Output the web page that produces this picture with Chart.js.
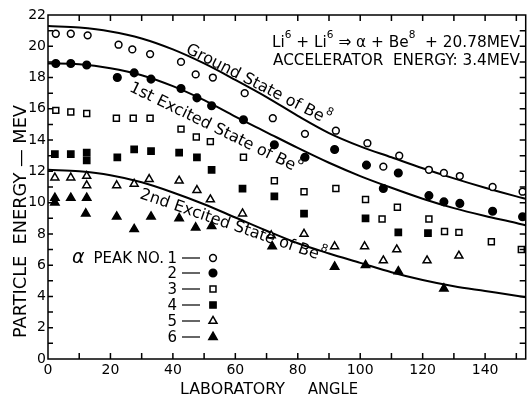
<!DOCTYPE html>
<html>
<head>
<meta charset="utf-8">
<script src="https://cdn.jsdelivr.net/npm/chart.js@4.4.0/dist/chart.umd.min.js"></script>
<style>
  html, body { margin: 0; padding: 0; background: #fff; }
  canvas { display: block; }
</style>
</head>
<body>
<canvas id="chart" width="532" height="394"></canvas>
<script>
// Li6 + Li6 -> alpha + Be8 : alpha particle energy vs laboratory angle

// ── kinematic curves ─────────────────────────────────────
const curveAngles   = [0, 10, 20, 30, 40, 50, 60, 70, 80, 90, 100, 110, 120, 130, 140, 150, 153];
const groundState   = [21.3, 21.2, 20.95, 20.5, 19.8, 18.9, 17.85, 16.75, 15.55, 14.45, 13.6, 12.9, 12.2, 11.55, 10.95, 10.4, 10.25];
const firstExcited  = [18.9, 18.85, 18.6, 18.15, 17.45, 16.55, 15.5, 14.5, 13.5, 12.55, 11.7, 10.95, 10.25, 9.65, 9.15, 8.7, 8.55];
const secondExcited = [12.1, 12.0, 11.75, 11.3, 10.65, 9.9, 9.05, 8.2, 7.4, 6.75, 6.15, 5.55, 5.05, 4.65, 4.35, 4.05, 3.95];

// ── measured alpha peaks ─────────────────────────────────
const peak1Angles = [2.5, 7.3, 12.7, 22.6, 27, 32.7, 42.6, 47.3, 52.8, 63, 72, 82.3, 92.2, 102.3, 107.4, 112.5, 122, 126.8, 131.9, 142.4, 152];
const peak1Energy = [20.8, 20.8, 20.7, 20.1, 19.8, 19.5, 19.0, 18.2, 18.0, 17.0, 15.4, 14.4, 14.6, 13.8, 12.3, 13.0, 12.1, 11.9, 11.7, 11.0, 10.7];
const peak2Angles = [2.5, 7.3, 12.4, 22.2, 27.6, 33, 42.6, 47.7, 52.4, 62.6, 72.5, 82.3, 91.8, 102, 107.4, 112.2, 122, 126.8, 131.9, 142.4, 152];
const peak2Energy = [18.9, 18.9, 18.8, 18.0, 18.3, 17.9, 17.3, 16.7, 16.2, 15.3, 13.7, 12.9, 13.4, 12.4, 10.9, 11.9, 10.45, 10.05, 9.95, 9.45, 9.1];
const peak3Angles = [2.5, 7.3, 12.4, 21.9, 27.3, 32.7, 42.6, 47.5, 52, 62.6, 72.5, 82, 92.2, 101.7, 107, 111.9, 122, 127, 131.6, 142, 151.6];
const peak3Energy = [15.9, 15.8, 15.7, 15.4, 15.4, 15.4, 14.7, 14.2, 13.9, 12.9, 11.4, 10.7, 10.9, 10.2, 8.95, 9.7, 8.95, 8.15, 8.1, 7.5, 7.0];
const peak4Angles = [2.2, 7.3, 12.4, 12.4, 22.2, 27.6, 33, 42, 47.7, 52.4, 62.3, 72.5, 82, 101.7, 112.2, 121.7];
const peak4Energy = [13.1, 13.1, 13.2, 12.7, 12.9, 13.4, 13.3, 13.2, 12.9, 12.1, 10.9, 10.4, 9.3, 9.0, 8.1, 8.05];
const peak5Angles = [2.2, 7.3, 12.4, 12.4, 22, 27.6, 32.4, 42, 47.7, 52, 62.3, 71.5, 82, 91.8, 101.4, 107.4, 111.7, 121.4, 131.6];
const peak5Energy = [11.6, 11.6, 11.7, 11.1, 11.1, 11.2, 11.5, 11.4, 10.8, 10.2, 9.3, 7.9, 8.0, 7.2, 7.2, 6.3, 7.0, 6.3, 6.6];
const peak6Angles = [2.2, 2.2, 7.3, 12.4, 12.1, 22, 27.6, 33, 42, 47.3, 52.4, 71.8, 91.8, 101.7, 112.2, 126.8];
const peak6Energy = [10.3, 10.0, 10.3, 10.3, 9.3, 9.1, 8.3, 9.1, 9.0, 8.4, 8.5, 7.2, 5.9, 6.0, 5.6, 4.5];

const xTickLabels = [0, 20, 40, 60, 80, 100, 120, 140];
const yTickLabels = [0, 2, 4, 6, 8, 10, 12, 14, 16, 18, 20, 22];

const FONT = '"DejaVu Sans", sans-serif';
const pts = (xs, ys) => xs.map((x, i) => ({ x, y: ys[i] }));

const peaks = [
  { name: '1', xs: peak1Angles, ys: peak1Energy, style: 'circle',   filled: false, r: 3.4 },
  { name: '2', xs: peak2Angles, ys: peak2Energy, style: 'circle',   filled: true,  r: 3.8 },
  { name: '3', xs: peak3Angles, ys: peak3Energy, style: 'rect',     filled: false, r: 4.2 },
  { name: '4', xs: peak4Angles, ys: peak4Energy, style: 'rect',     filled: true,  r: 4.4 },
  { name: '5', xs: peak5Angles, ys: peak5Energy, style: 'triangle', filled: false, r: 4.6 },
  { name: '6', xs: peak6Angles, ys: peak6Energy, style: 'triangle', filled: true,  r: 4.8 }
];

function curveSet(ys) {
  return {
    data: pts(curveAngles, ys), showLine: true, pointRadius: 0,
    borderColor: '#000', borderWidth: 2, cubicInterpolationMode: 'monotone', order: 2
  };
}

const datasets = [curveSet(groundState), curveSet(firstExcited), curveSet(secondExcited)].concat(
  peaks.map(p => ({
    data: pts(p.xs, p.ys), showLine: false,
    pointStyle: p.style, pointRadius: p.r, pointBorderWidth: 1.5,
    pointBorderColor: '#000', pointBackgroundColor: p.filled ? '#000' : '#fff', order: 1
  }))
);

// ── text helpers ─────────────────────────────────────────
// runs: [text, size, dy]; draws sequentially, optionally squeezed to a width
function drawRuns(ctx, runs, x, y, width) {
  let total = 0;
  runs.forEach(([t, s]) => { ctx.font = s + 'px ' + FONT; total += ctx.measureText(t).width; });
  ctx.save();
  ctx.translate(x, y);
  if (width) ctx.scale(width / total, 1);
  let cx = 0;
  runs.forEach(([t, s, dy]) => {
    ctx.font = s + 'px ' + FONT;
    ctx.fillText(t, cx, dy || 0);
    cx += ctx.measureText(t).width;
  });
  ctx.restore();
}

function marker(ctx, p, x, y) {
  const opts = { pointStyle: p.style, radius: p.r, borderWidth: 1.5, rotation: 0 };
  ctx.save();
  ctx.fillStyle = p.filled ? '#000' : '#fff';
  ctx.strokeStyle = '#000';
  ctx.lineWidth = 1.5;
  Chart.helpers.drawPoint(ctx, opts, x, y);
  ctx.restore();
}

// ── frame, ticks and annotations ─────────────────────────
const decorPlugin = {
  id: 'decor',
  afterDatasetsDraw(chart) {
    const { ctx, chartArea: a, scales: { x, y } } = chart;
    ctx.save();
    ctx.strokeStyle = '#000';
    ctx.fillStyle = '#000';
    ctx.lineWidth = 1.5;
    ctx.strokeRect(a.left, a.top, a.right - a.left, a.bottom - a.top);
    ctx.beginPath();
    for (let v = 10; v <= 150; v += 10) {
      const px = x.getPixelForValue(v);
      ctx.moveTo(px, a.bottom); ctx.lineTo(px, a.bottom - 6);
      ctx.moveTo(px, a.top); ctx.lineTo(px, a.top + 6);
    }
    for (let v = 1; v <= 21; v++) {
      const py = y.getPixelForValue(v);
      ctx.moveTo(a.left, py); ctx.lineTo(a.left + 5, py);
      ctx.moveTo(a.right, py); ctx.lineTo(a.right - 6, py);
    }
    ctx.stroke();

    // curve labels
    ctx.textBaseline = 'middle';
    ctx.textAlign = 'left';
    const curveLabels = [
      { at: [44.5, 19.85], deg: 27, text: 'Ground State of Be' },
      { at: [26.4, 17.4],  deg: 26, text: '1st Excited State of Be' },
      { at: [29.6, 10.55], deg: 19, text: '2nd Excited State of Be' }
    ];
    curveLabels.forEach(l => {
      ctx.save();
      ctx.translate(x.getPixelForValue(l.at[0]), y.getPixelForValue(l.at[1]));
      ctx.rotate(l.deg * Math.PI / 180);
      drawRuns(ctx, [[l.text, 16], ['8', 11, -8]], 0, 0);
      ctx.restore();
    });

    // reaction heading
    ctx.textBaseline = 'alphabetic';
    drawRuns(ctx, [['Li', 16], ['6', 11, -9], [' + Li', 16], ['6', 11, -9], [' \u21D2 \u03B1 + Be', 16], ['8', 11, -9], ['  + 20.78MEV', 16]], 272, 47, 248);
    drawRuns(ctx, [['ACCELERATOR  ENERGY: 3.4MEV', 16]], 273, 65, 247);

    // legend
    const rowY = [258, 273, 289, 305, 321, 337];
    peaks.forEach((p, i) => {
      const my = rowY[i];
      ctx.font = '15px ' + FONT;
      ctx.textAlign = 'right';
      ctx.fillText(p.name, 177, my + 5);
      if (i === 0) {
        ctx.fillText('PEAK NO.', 164, my + 5);
        ctx.textAlign = 'left';
        ctx.font = 'italic 19px ' + FONT;
        ctx.fillText('\u03B1', 72, my + 5);
      }
      ctx.beginPath();
      ctx.lineWidth = 1.2;
      ctx.moveTo(182, my); ctx.lineTo(200, my);
      ctx.stroke();
      marker(ctx, p, 213, my);
    });

    // axis titles
    ctx.textAlign = 'left';
    drawRuns(ctx, [['LABORATORY', 16]], 180, 394, 105);
    drawRuns(ctx, [['ANGLE', 16]], 308, 394, 50);
    ctx.save();
    ctx.translate(26, 338);
    ctx.rotate(-Math.PI / 2);
    drawRuns(ctx, [['PARTICLE  ENERGY \u2014 MEV', 17]], 0, 0, 233);
    ctx.restore();
    ctx.restore();
  }
};

new Chart(document.getElementById('chart'), {
  type: 'scatter',
  data: { datasets },
  plugins: [decorPlugin],
  options: {
    responsive: false, animation: false,
    layout: { padding: { top: 15, right: 2, left: 0, bottom: 0 } },
    plugins: { legend: { display: false }, tooltip: { enabled: false } },
    scales: {
      x: {
        type: 'linear', min: 0, max: 153,
        afterFit: s => { s.height = 35; },
        grid: { display: false, drawTicks: false }, border: { display: false },
        ticks: {
          stepSize: 20, includeBounds: false, padding: 3, color: '#000', font: { family: FONT, size: 14 },
          callback: v => xTickLabels.includes(v) ? String(v) : ''
        }
      },
      y: {
        type: 'linear', min: 0, max: 22,
        afterFit: s => { s.width = 48; },
        grid: { display: false, drawTicks: false }, border: { display: false },
        ticks: {
          stepSize: 2, padding: 2, color: '#000', font: { family: FONT, size: 14 },
          callback: v => yTickLabels.includes(v) ? String(v) : ''
        }
      }
    }
  }
});
</script>
</body>
</html>
